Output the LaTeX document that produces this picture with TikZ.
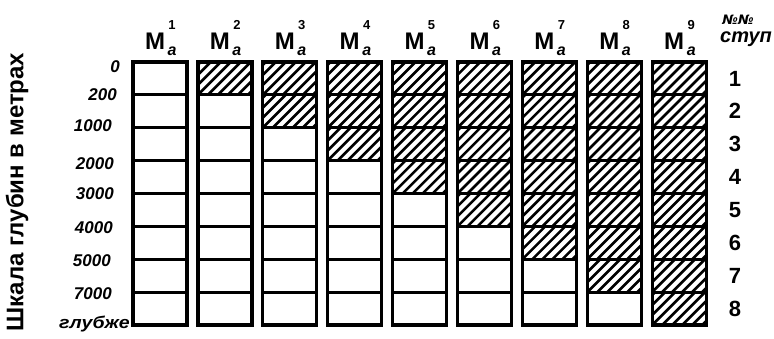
\documentclass[tikz,border=0pt]{standalone}
\usepackage{fontspec}
\setmainfont{Liberation Sans}
\newfontfamily\djv{DejaVu Sans}
\begin{document}
\begin{tikzpicture}[x=1pt,y=-1pt,
  cellbox/.style={line width=3.2pt},
  hatchline/.style={line width=2.6pt},
  depth/.style={anchor=east, inner sep=0pt, font=\fontsize{17}{17}\selectfont\bfseries\itshape},
  stepnum/.style={inner sep=0pt, font=\fontsize{22}{22}\selectfont\bfseries},
  mlabel/.style={inner sep=0pt, anchor=base, font=\fontsize{24}{24}\selectfont\bfseries},
  suplabel/.style={inner sep=0pt, anchor=base, font=\fontsize{13}{13}\selectfont\bfseries},
  sublabel/.style={inner sep=0pt, anchor=base, font=\fontsize{16}{16}\selectfont\bfseries\itshape},
]
\useasboundingbox (0,0) rectangle (774,339);

\foreach \k in {1,...,9}{
  \pgfmathsetmacro\X{133+64.9*(\k-1)}
  \pgfmathsetmacro\C{\X+27}
  \foreach \r in {1,...,8}{
    \ifnum\r<\k
      \pgfmathsetmacro\Ya{62+32.875*(\r-1)}
      \pgfmathsetmacro\Yb{\Ya+32.875}
      \begin{scope}
        \clip (\X,\Ya) rectangle (\X+54,\Yb);
        \foreach \d in {-40,-30,...,60}
          \draw[hatchline] (\X+\d,\Yb) -- ++(40,-40);
      \end{scope}
    \fi
  }
  \draw[cellbox] (\X,62) rectangle (\X+54,325);
  \foreach \r in {1,...,7} \draw[cellbox] (\X,62+32.875*\r) -- (\X+54,62+32.875*\r);
  \node[mlabel] (m\k) at (\C-5,50) {M};
  \node[suplabel] (s\k) at (\C+12,30) {\k};
  \node[sublabel] (a\k) at (\C+12,56) {a};
}

\node[depth] (d0) at (120,67) {0};
\node[depth] (d1) at (117,95) {200};
\node[depth] (d2) at (112,126) {1000};
\node[depth] (d3) at (114,164) {2000};
\node[depth] (d4) at (114,194) {3000};
\node[depth] (d5) at (113,228) {4000};
\node[depth] (d6) at (111,261) {5000};
\node[depth] (d7) at (112,294) {7000};
\node[depth] (d8) at (130,324) {\scalebox{1.15}[1]{глубже}};

\foreach \r in {1,...,8}
  \node[stepnum] (n\r) at (735,{62+32.875*(\r-0.5)}) {\r};

\node[inner sep=0pt, font=\fontsize{13}{13}\selectfont\djv\bfseries\itshape] (nn) at (738,20) {№№};
\node[inner sep=0pt, font=\fontsize{20}{20}\selectfont\bfseries\itshape] (stup) at (746,39) {ступ};

\node[rotate=90, inner sep=0pt, font=\fontsize{24}{24}\selectfont\bfseries] (scale) at (17,192) {Шкала глубин в метрах};
\end{tikzpicture}
\end{document}
